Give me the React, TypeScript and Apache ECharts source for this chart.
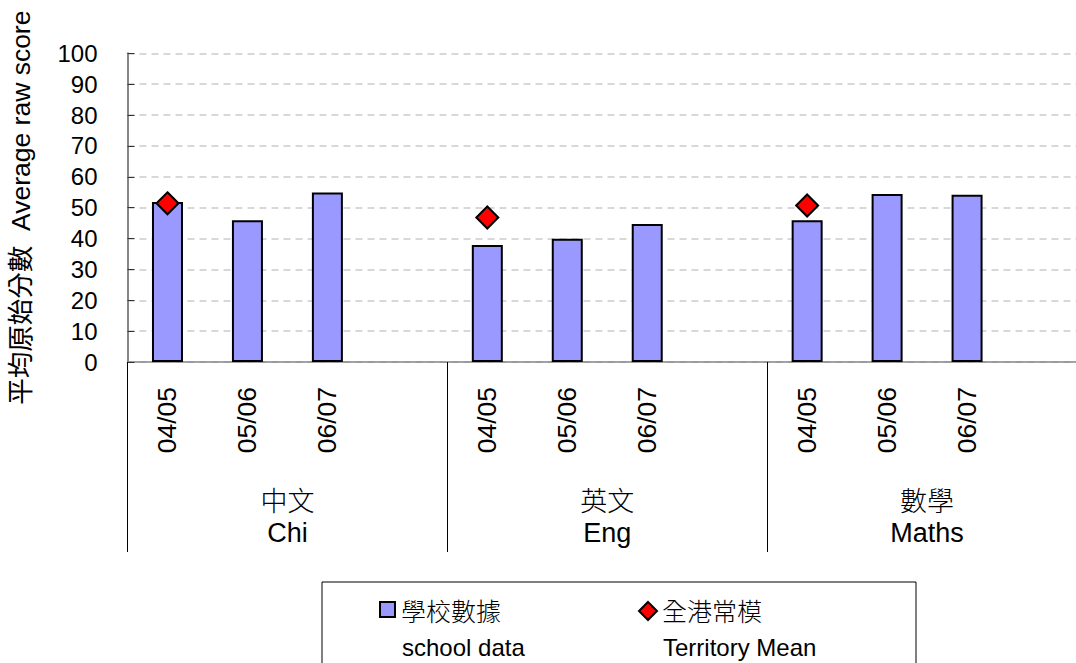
import React, { useEffect, useRef } from "react";
import * as echarts from "echarts";

const years = ["04/05", "05/06", "06/07", ""];
const subjects = ["中文\nChi", "英文\nEng", "數學\nMaths"];
const categories = [...years, ...years, ...years];
const schoolData = [51.8, 45.9, 54.9, "-", 37.9, 39.9, 44.7, "-", 45.9, 54.4, 54.2, "-"];
const territoryMean = [51.4, "-", "-", "-", 46.8, "-", "-", "-", 50.7, "-", "-", "-"];
const yTicks = { min: 0, max: 100, interval: 10 };
const yName = "平均原始分數  Average raw score";
const legendSchool = ["學校數據", "school data"];
const legendTerritory = ["全港常模", "Territory Mean"];

const FONT = '"Liberation Sans", Arial, "Noto Sans CJK TC", sans-serif';
const CJK = '"Noto Sans CJK TC", sans-serif';

export default function App() {
  const ref = useRef<HTMLDivElement>(null);
  useEffect(() => {
    if (!ref.current) return;
    const chart = echarts.init(ref.current, undefined, { renderer: "svg" });
    chart.setOption({
      animation: false,
      backgroundColor: "#ffffff",
      textStyle: { fontFamily: FONT },
      grid: { left: 127, top: 53.3, width: 960, bottom: 301 },
      xAxis: [
        {
          type: "category",
          data: categories,
          position: "bottom",
          axisLine: { show: true, lineStyle: { color: "#868686", width: 1.5 } },
          axisTick: { show: false },
          axisLabel: {
            rotate: 90,
            margin: 25,
            fontSize: 26.5,
            color: "#000",
            fontFamily: FONT,
            interval: 0,
          },
          splitLine: { show: false },
        },
        {
          type: "category",
          data: subjects,
          position: "bottom",
          axisLine: { show: false },
          axisTick: { show: true, length: 190, lineStyle: { color: "#000", width: 1 } },
          axisLabel: {
            margin: 121,
            interval: 0,
            formatter: (v: string) => {
              const [cn, en] = v.split("\n");
              return `{cn|${cn}}\n{en|${en}}`;
            },
            rich: {
              cn: { fontSize: 27, lineHeight: 33, color: "#000", fontFamily: CJK, fontWeight: 300 },
              en: { fontSize: 27, lineHeight: 33, color: "#000", fontFamily: FONT },
            },
          },
          splitLine: { show: false },
        },
      ],
      yAxis: {
        type: "value",
        min: yTicks.min,
        max: yTicks.max,
        interval: yTicks.interval,
        name: yName,
        nameLocation: "middle",
        nameRotate: 90,
        nameGap: 93,
        nameTextStyle: { fontSize: 26.5, color: "#000", fontFamily: FONT },
        axisLine: { show: true, lineStyle: { color: "#868686", width: 2 } },
        axisTick: { show: true, inside: true, length: 7, lineStyle: { color: "#333", width: 1 } },
        axisLabel: { fontSize: 24, color: "#000", margin: 30, fontFamily: FONT },
        splitLine: { show: true, lineStyle: { color: "#cccccc", width: 1.5, type: [7, 5] } },
      },
      series: [
        {
          name: "school data",
          type: "bar",
          data: schoolData,
          barWidth: 31,
          itemStyle: { color: "#9999FF", borderColor: "#000", borderWidth: 2 },
        },
        {
          name: "Territory Mean",
          type: "scatter",
          data: territoryMean,
          symbol: "diamond",
          symbolSize: 22,
          itemStyle: { color: "#FF0000", borderColor: "#000", borderWidth: 2, opacity: 1 },
          z: 5,
        },
      ],
      graphic: [
        {
          type: "rect",
          shape: { x: 322, y: 582, width: 594, height: 120 },
          style: { fill: "#fff", stroke: "#000", lineWidth: 1 },
        },
        {
          type: "rect",
          shape: { x: 380, y: 602, width: 15, height: 15 },
          style: { fill: "#9999FF", stroke: "#000", lineWidth: 2 },
        },
        {
          type: "text",
          x: 401,
          y: 610,
          style: { text: legendSchool[0], fontSize: 25, fill: "#000", fontFamily: CJK, fontWeight: 300, verticalAlign: "middle" },
        },
        {
          type: "text",
          x: 402,
          y: 647,
          style: { text: legendSchool[1], fontSize: 24, fill: "#000", fontFamily: FONT, verticalAlign: "middle" },
        },
        {
          type: "polygon",
          shape: { points: [[648, 602], [657, 611], [648, 620], [639, 611]] },
          style: { fill: "#FF0000", stroke: "#000", lineWidth: 2 },
        },
        {
          type: "text",
          x: 662,
          y: 610,
          style: { text: legendTerritory[0], fontSize: 25, fill: "#000", fontFamily: CJK, fontWeight: 300, verticalAlign: "middle" },
        },
        {
          type: "text",
          x: 663,
          y: 647,
          style: { text: legendTerritory[1], fontSize: 24, fill: "#000", fontFamily: FONT, verticalAlign: "middle" },
        },
      ],
    });
    return () => chart.dispose();
  }, []);
  return (
    <div style={{ position: "absolute", left: 0, top: 0, width: 1076, height: 663, overflow: "hidden" }}>
      <div ref={ref} style={{ width: 1100, height: 663 }} />
    </div>
  );
}
